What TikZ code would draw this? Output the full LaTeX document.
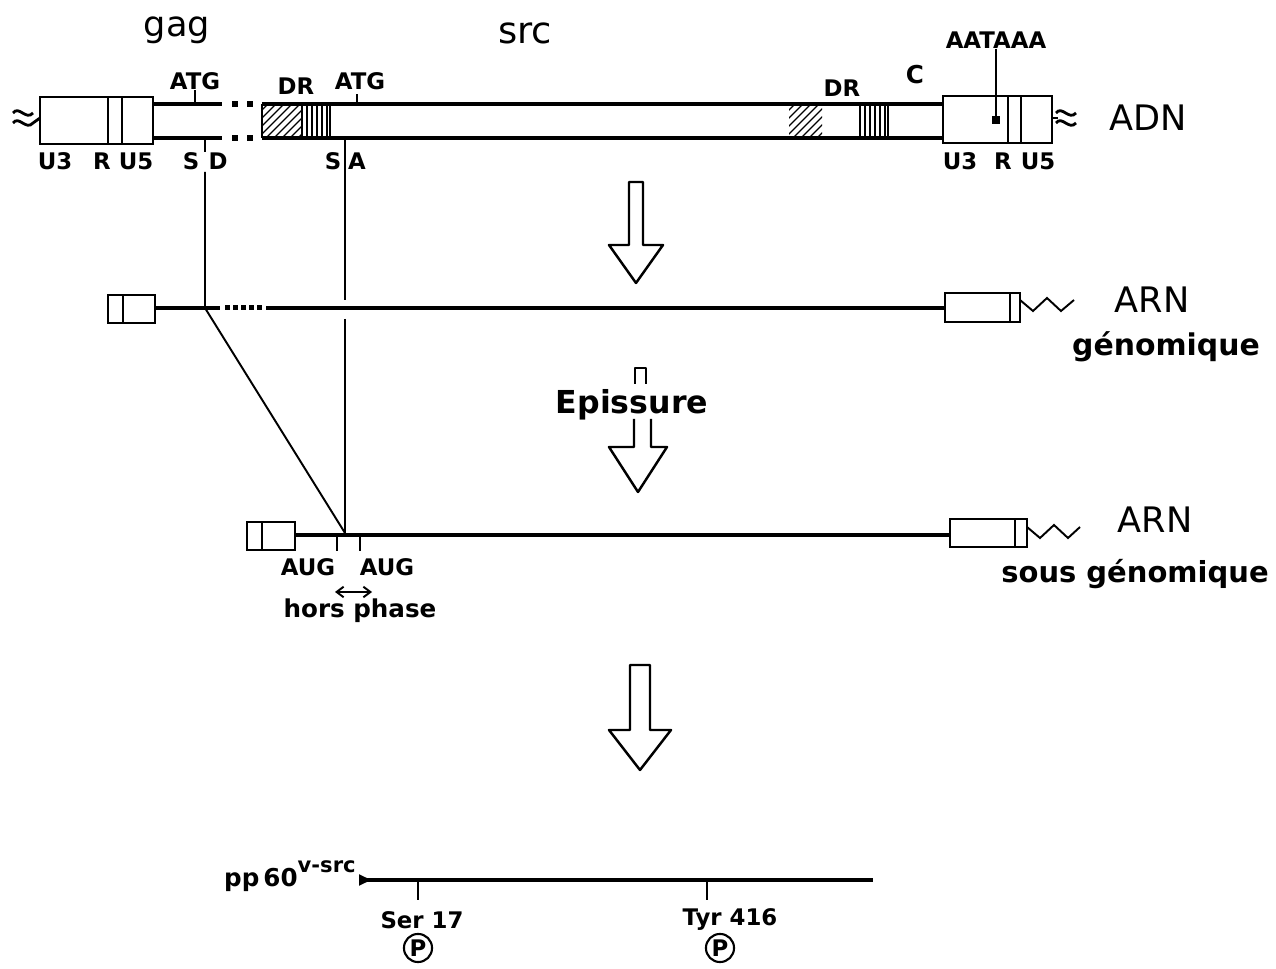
\documentclass[tikz,border=0pt]{standalone}
\usepackage{fontspec}
\setmainfont{DejaVu Sans}
\usetikzlibrary{arrows.meta,calc}

\begin{document}
\begin{tikzpicture}[
  x=0.02cm, y=-0.02cm,
  tube/.style={line width=2.2pt},
  boxline/.style={line width=1.5pt},
  thinline/.style={line width=1.1pt},
  hatchline/.style={line width=0.8pt},
  lbl/.style={font=\bfseries\fontsize{13}{15}\selectfont, inner sep=0pt},
  gene/.style={font=\fontsize{20}{22}\selectfont, inner sep=0pt},
  mol/.style={font=\fontsize{20}{22}\selectfont, inner sep=0pt},
  rnatype/.style={font=\bfseries\fontsize{17}{19}\selectfont, inner sep=0pt},
  bigarrow/.style={line width=1.4pt, line join=round},
  phos/.style={draw, circle, line width=1.2pt, inner sep=0pt, minimum size=16pt, font=\bfseries\fontsize{13}{15}\selectfont}
]
\useasboundingbox (0,0) rectangle (1276,969);

% ==================== TOP: ADN (provirus) ====================
\node[gene] (gag) at (177,30) {gag};
\node[gene, font=\fontsize{21}{23}\selectfont] (src) at (525,33) {src};

% left LTR
\draw[line width=1.6pt] (13,113) .. controls (19,105) and (26,121) .. (33,113);
\draw[line width=1.6pt] (13,123) .. controls (19,115) and (26,131) .. (33,123) -- (40,118);
\draw[boxline] (40,97) rectangle (153,144);
\draw[boxline] (108,97) -- (108,144) (122,97) -- (122,144);
\node[lbl] (u3_l) at (55,161) {U3};
\node[lbl] (r_l) at (102,161) {R};
\node[lbl] (u5_l) at (136,161) {U5};

% gag part of the tube
\draw[tube] (153,104) -- (222,104) (153,138) -- (222,138);
\foreach \x in {235,250} {
  \fill (\x-3,101) rectangle (\x+3,107);
  \fill (\x-3,135) rectangle (\x+3,141);
}

% src part of the tube
\draw[tube] (262,104) -- (943,104) (262,138) -- (943,138);
\draw[boxline] (262,104) -- (262,138);
\begin{scope}
  \clip (262,104) rectangle (302,138);
  \foreach \x in {226,234,...,302} \draw[hatchline] (\x,138) -- (\x+34,104);
\end{scope}
\foreach \x in {302,307,...,327} \draw[hatchline] (\x,104) -- (\x,138);
\draw[boxline] (330,104) -- (330,138);
\begin{scope}
  \clip (789,104) rectangle (822,138);
  \foreach \x in {753,761,...,822} \draw[hatchline] (\x,138) -- (\x+34,104);
\end{scope}
\foreach \x in {860,865,...,885} \draw[hatchline] (\x,104) -- (\x,138);
\draw[boxline] (888,104) -- (888,138);

% ticks and site labels
\node[lbl] (atg_gag) at (195,81) {ATG};
\node[lbl] (dr_l) at (296,86) {DR};
\node[lbl] (atg_src) at (360,81) {ATG};
\draw[thinline] (195,104) -- (atg_gag.south);
\draw[thinline] (357,104) -- (357,94);
\node[lbl] (s_sd) at (191,161) {S};
\node[lbl] (d_sd) at (218,161) {D};
\node[lbl] (s_sa) at (333,161) {S};
\node[lbl] (a_sa) at (357,161) {A};
\draw[thinline] (205,138) -- (205,152);

% right LTR
\node[lbl] (dr_r) at (842,88) {DR};
\node[font=\bfseries\fontsize{14}{16}\selectfont, inner sep=0pt] (c_reg) at (915,75) {C};
\node[lbl] (aataaa) at (996,40) {AATAAA};
\draw[boxline] (943,96) rectangle (1052,143);
\draw[boxline] (1008,96) -- (1008,143) (1021,96) -- (1021,143);
\coordinate (polya) at (996,120);
\draw[thinline] (aataaa.south) -- (polya);
\fill ($(polya)+(-4,-4)$) rectangle ($(polya)+(4,4)$);
\draw[line width=1.6pt] (1052,118) -- (1058,118);
\draw[line width=1.6pt] (1056,113) .. controls (1062,105) and (1069,121) .. (1076,113);
\draw[line width=1.6pt] (1056,123) .. controls (1062,115) and (1069,131) .. (1076,123);
\node[lbl] (u3_r) at (960,161) {U3};
\node[lbl] (r_r) at (1003,161) {R};
\node[lbl] (u5_r) at (1038,161) {U5};
\node[mol] (adn) at (1148,118) {ADN};

% ==================== MIDDLE: ARN genomique ====================
\draw[bigarrow] (629,182) -- (643,182) -- (643,245) -- (663,245) -- (636,283) -- (609,245) -- (629,245) -- cycle;

\draw[boxline] (108,295) rectangle (155,323);
\draw[boxline] (123,295) -- (123,323);
\draw[tube] (155,308) -- (220,308);
\foreach \x in {227,235,...,259} \fill (\x-2.5,305.5) rectangle (\x+2.5,310.5);
\draw[tube] (266,308) -- (945,308);
\draw[boxline] (945,293) rectangle (1020,322);
\draw[boxline] (1010,293) -- (1010,322);
\draw[thinline] (1020,300) -- (1033,311) -- (1047,298) -- (1061,311) -- (1074,300);
\node[mol] (arn_g) at (1152,300) {ARN};
\node[rnatype] (geno) at (1166,347) {génomique};

% splice lines
\coordinate (sd_top) at (205,172);
\coordinate (sd_rna) at (205,308);
\coordinate (sa_top) at (345,138);
\coordinate (sa_cut1) at (345,300);
\coordinate (sa_cut2) at (345,319);
\coordinate (splice) at (345,533);
\draw[thinline] (sd_top) -- (sd_rna) -- (splice);
\draw[thinline] (sa_top) -- (sa_cut1);
\draw[thinline] (sa_cut2) -- (splice);

% Epissure arrow
\draw[bigarrow] (635,384) -- (635,368) -- (646,368) -- (646,384);
\node[rnatype, font=\bfseries\fontsize{18}{20}\selectfont] (episs) at (632,405) {Epissure};
\draw[bigarrow] (634,419) -- (634,447) -- (609,447) -- (638,492) -- (667,447) -- (651,447) -- (651,419);

% ==================== ARN sous genomique ====================
\draw[boxline] (247,522) rectangle (295,550);
\draw[boxline] (262,522) -- (262,550);
\draw[tube] (295,535) -- (950,535);
\draw[boxline] (950,519) rectangle (1027,547);
\draw[boxline] (1015,519) -- (1015,547);
\draw[thinline] (1027,527) -- (1040,538) -- (1054,525) -- (1068,538) -- (1080,527);
\node[mol] (arn_sg) at (1155,520) {ARN};
\node[rnatype, font=\bfseries\fontsize{16.5}{19}\selectfont] (sousgeno) at (1135,574) {sous génomique};

\node[lbl] (aug1) at (308,567) {AUG};
\node[lbl] (aug2) at (387,567) {AUG};
\draw[thinline] (337,535) -- (337,551);
\draw[thinline] (360,535) -- (360,551);
\coordinate (phase_l) at (335,592);
\coordinate (phase_r) at (372,592);
\draw[thinline, {Straight Barb[length=4pt,width=6pt]}-{Straight Barb[length=4pt,width=6pt]}] (phase_l) -- (phase_r);
\node[lbl, font=\bfseries\fontsize{14}{16}\selectfont] (hors) at (360,611) {hors phase};

% ==================== BOTTOM: pp60 v-src ====================
\draw[bigarrow] (630,665) -- (650,665) -- (650,730) -- (671,730) -- (640,770) -- (609,730) -- (630,730) -- cycle;

\node[lbl, anchor=east, font=\bfseries\fontsize{14}{16}\selectfont] (pp60) at (356,876) {pp\,60\raisebox{1.0ex}{\fontsize{12}{14}\selectfont v-src}};
\coordinate (prot_start) at (359,880);
\coordinate (prot_end) at (873,880);
\draw[tube, {Triangle[reversed, length=7pt, width=6pt]}-] (prot_start) -- (prot_end);
\draw[boxline] (418,880) -- (418,900);
\draw[boxline] (707,880) -- (707,900);
\node[lbl] (ser) at (422,920) {Ser 17};
\node[lbl] (tyr) at (730,920) {Tyr 416};
\node[phos] (p_ser) at (418,948) {P};
\node[phos] (p_tyr) at (720,948) {P};

\end{tikzpicture}
\end{document}
